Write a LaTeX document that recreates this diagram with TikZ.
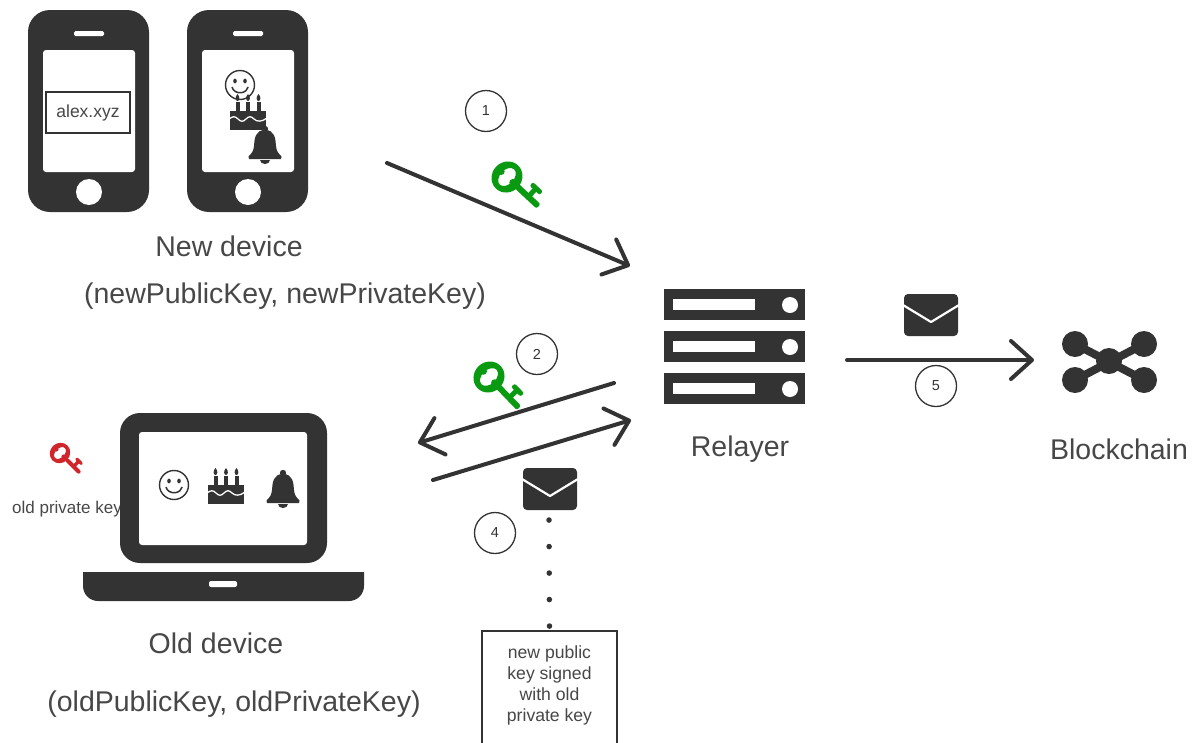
\documentclass[tikz,border=0pt]{standalone}
\usepackage{fontspec}
\setmainfont{Liberation Sans}
\usetikzlibrary{arrows.meta}
\definecolor{ink}{HTML}{333333}
\definecolor{keygreen}{HTML}{0A9A12}
\definecolor{keyred}{HTML}{D0262B}
\tikzset{
  x=1pt,y=-1pt,
  label28/.style={inner sep=0pt,text=ink!90,font=\fontsize{28.5}{30}\selectfont},
  label17/.style={inner sep=0pt,text=ink!90,font=\fontsize{17}{20}\selectfont},
  numcirc/.style={circle,draw=ink,line width=1.3pt,minimum size=41pt,inner sep=0pt,text=ink,font=\fontsize{14.5}{16}\selectfont},
  flowline/.style={draw=ink,line width=4pt,line cap=round,-{Straight Barb[length=21pt,width=38pt,round]}},
  dotline/.style={draw=ink,line width=5.5pt,line cap=round,dash pattern=on 0.1pt off 26.4pt},
  pics/phone/.style={code={
    \fill[ink,rounded corners=22pt] (0,0) rectangle (121,202);
    \fill[white,rounded corners=3pt] (15,40) rectangle (107,162);
    \fill[white,rounded corners=1.5pt] (46,21) rectangle (76,26);
    \fill[white] (61,182) circle[radius=13];
  }},
  pics/keyicon/.style={code={
    \fill[#1,even odd rule] (0,0) ellipse[x radius=15,y radius=16] (0,0) ellipse[x radius=7,y radius=10.5];
    \fill[#1] (-8,0) circle[radius=3.5] (8,0) circle[radius=3.5];
    \fill[#1,rounded corners=2pt] (13,-3) rectangle (43,3);
    \fill[#1] (26.5,-1) rectangle (31.5,-11);
    \fill[#1,rounded corners=2pt] (22.5,-14) rectangle (36,-9);
  }},
  pics/envelope/.style={code={
    \fill[ink,rounded corners=4pt] (0,0) rectangle (54,42);
    \draw[white,line width=2.2pt,line join=round] (-1,11) -- (27,28) -- (55,11);
  }},
  pics/smiley/.style={code={
    \draw[ink,line width=1.4pt] (0,0) circle[radius=14.5];
    \fill[ink] (-5,-4) ellipse[x radius=1.8,y radius=2.4] (5,-4) ellipse[x radius=1.8,y radius=2.4];
    \draw[ink,line width=1.5pt] (-8,2) arc[start angle=190,end angle=350,x radius=8.2,y radius=-7];
  }},
  pics/cake/.style={code={
    \fill[ink] (0,17) rectangle (36,36);
    \draw[white,line width=1.3pt] (-1,25) .. controls (3,22) and (5,22) .. (8,25) .. controls (11,28) and (13,28) .. (16,25) .. controls (19,22) and (21,22) .. (24,25) .. controls (27,28) and (32,28) .. (37,24);
    \foreach \cx in {7.5,18,28.5}{
      \fill[ink] (\cx-2,8) rectangle (\cx+2,18);
      \fill[ink] (\cx,0) .. controls (\cx+3,3) and (\cx+2,7) .. (\cx,7) .. controls (\cx-2,7) and (\cx-3,3) .. (\cx,0) -- cycle;
    }
  }},
  pics/bell/.style={code={
    \fill[ink] (16,0) circle[radius=3.2];
    \fill[ink] (16,1) .. controls (26,1) and (26.5,10) .. (27,17) .. controls (27.5,22) and (29,24) .. (32.5,27.5) -- (32,30) -- (0,30) -- (-0.5,27.5) .. controls (3,24) and (4.5,22) .. (5,17) .. controls (5.5,10) and (6,1) .. (16,1) -- cycle;
    \fill[ink] (11,31) arc[start angle=180,end angle=360,x radius=5,y radius=-4] -- cycle;
  }},
}
\begin{document}
\begin{tikzpicture}
\useasboundingbox (0,0) rectangle (1197,742);
% phones
\pic at (28,10) {phone};
\pic at (187,10) {phone};
\node[draw=ink,line width=1.6pt,fill=white,minimum width=84pt,minimum height=41pt,inner sep=0pt,text=ink!90,font=\fontsize{17.5}{20}\selectfont] (alexbox) at (88,112.5) {\raisebox{-2pt}{alex.xyz}};
\pic at (240,85) {smiley};
\pic at (230,94) {cake};
\pic at (249,129) {bell};
\node[label28] (newdev) at (229,246) {New device};
\node[label28] (newkeys) at (285,296) {(newPublicKey, newPrivateKey)};
% numbered circles
\node[numcirc] (n1) at (486,111) {1};
\node[numcirc] (n2) at (537,354) {2};
\node[numcirc] (n4) at (495,533) {4};
\node[numcirc] (n5) at (936,386) {5};
% keys
\pic[rotate=-43] at (507,177) {keyicon=keygreen};
\pic[rotate=-46] at (489,377) {keyicon=keygreen};
\pic[rotate=-45,scale=0.66] at (60,453) {keyicon=keyred};
% old private key label, under laptop
\node[label17] (oldlabel) at (67,509) {old private key};
% laptop
\fill[ink,rounded corners=20pt] (120,413) rectangle (327,563);
\fill[white,rounded corners=3pt] (139,432) rectangle (307,545);
\fill[ink] (83,572) -- (364,572) -- (364,586) arc[start angle=0,end angle=90,radius=15] -- (98,601) arc[start angle=90,end angle=180,radius=15] -- cycle;
\fill[white,rounded corners=2pt] (209,581) rectangle (237,587);
\pic at (174,485) {smiley};
\pic at (208,468) {cake};
\pic at (267,473) {bell};
\node[label28] (olddev) at (216,643) {Old device};
\node[label28] (oldkeys) at (234,704) {(oldPublicKey, oldPrivateKey)};
% server
\foreach \ty in {289,331,373}{
  \fill[ink] (664,\ty) rectangle (805,\ty+31);
  \fill[white] (673,\ty+10) rectangle (755,\ty+21);
  \fill[white] (790,\ty+16) circle[radius=8];
}
\node[label28] (relayer) at (740,449) {Relayer};
% blockchain
\draw[ink,line width=8pt] (1075,344) -- (1144,380) (1144,344) -- (1075,380);
\fill[ink] (1109,361) circle[radius=13] (1075,344) circle[radius=13] (1144,344) circle[radius=13] (1075,380) circle[radius=13] (1144,380) circle[radius=13];
\node[label28] (chain) at (1119,449) {Blockchain};
% envelopes
\pic at (523,468) {envelope};
\pic at (904,294) {envelope};
% connectors
\coordinate (a1s) at (387,163);
\coordinate (a1e) at (630,266);
\coordinate (a2s) at (614,383);
\coordinate (a2e) at (418,443);
\coordinate (a4s) at (433,480);
\coordinate (a4e) at (631,420);
\coordinate (a5s) at (847,360);
\coordinate (a5e) at (1034,360);
\draw[flowline] (a1s) -- (a1e);
\draw[flowline] (a2s) -- (a2e);
\draw[flowline] (a4s) -- (a4e);
\draw[flowline] (a5s) -- (a5e);
% note
\node[draw=ink,line width=1.6pt,fill=white,minimum width=135pt,minimum height=130pt,inner sep=0pt] (note) at (549.5,696) {};
\node[label17,font=\fontsize{17.6}{21}\selectfont,align=center] (notetext) at (549.5,685) {new public\\key signed\\with old\\private key};
\coordinate (dotstart) at (549,520);
\draw[dotline] (dotstart) -- (note.north);
\end{tikzpicture}
\end{document}
